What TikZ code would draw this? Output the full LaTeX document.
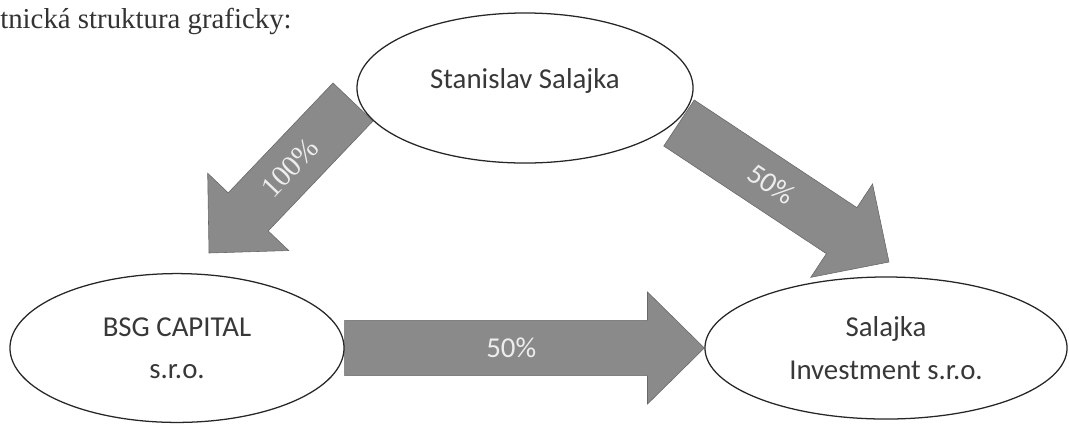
\documentclass[tikz,border=0pt]{standalone}
\usepackage{fontspec}
\setmainfont{Liberation Serif}
\newfontfamily\calibri{Carlito}
\usepackage{xcolor}
\usepackage{tikz}
\usetikzlibrary{shapes.geometric,calc,backgrounds}

\definecolor{arrowgray}{RGB}{138,138,138}
\def\shafthw{0.69cm}
\def\headhw{1.4cm}
\def\headlen{1.42cm}

% fat block arrow: tail, tip, name of the point where the head starts
\newcommand{\fatarrow}[3]{%
  \coordinate (#3) at ($(#2)!\headlen!(#1)$);
  \filldraw[fatarrow] ($(#1)!\shafthw!90:(#2)$) -- ($(#3)!\shafthw!90:(#2)$)
    -- ($(#3)!\headhw!90:(#2)$) -- (#2) -- ($(#3)!\headhw!-90:(#2)$)
    -- ($(#3)!\shafthw!-90:(#2)$) -- ($(#1)!\shafthw!-90:(#2)$) -- cycle;
}

\begin{document}
\begin{tikzpicture}[x=0.025cm, y=-0.025cm,
  owner/.style={ellipse, draw=black!85, line width=0.9pt, fill=white, text=black!78,
    font=\calibri\fontsize{20.5}{30}\selectfont, align=center, inner sep=0pt},
  fatarrow/.style={fill=arrowgray, draw=arrowgray!75!black, line width=0.4pt},
  pct/.style={text=white!93!black, font=\calibri\fontsize{20.5}{24}\selectfont, inner sep=0pt}]
\useasboundingbox (0,0) rectangle (1069,424);

% heading
\node[anchor=base west, inner sep=0pt, text=black!80, font=\fontsize{20.5}{24}\selectfont] (title) at (0,28) {tnická struktura graficky:};

% owners
\node[owner, minimum width=8.4cm, minimum height=3.75cm] (stan) at (525,88) {\smash{Stanislav Salajka}};
\node[owner, minimum width=8.35cm, minimum height=3.72cm] (bsg) at (177,348) {BSG CAPITAL\\s.r.o.};
\node[owner, minimum width=9.05cm, minimum height=3.55cm] (inv) at (886,348) {Salajka\\Investment s.r.o.};

\coordinate (t100) at (353,102);
\coordinate (h100) at (209,253);
\coordinate (t50) at (679,123);
\coordinate (h50) at (889,262);

% shares
\begin{scope}[on background layer]
\fatarrow{t100}{h100}{b100}
\fatarrow{t50}{h50}{b50}
\fatarrow{bsg.east}{inv.west}{bh}
\end{scope}
\path (t100) -- (b100) node[pct, pos=0.6, sloped, font=\fontsize{21}{24}\selectfont] {100\%};
\path (t50) -- (b50) node[pct, pos=0.57, sloped] {50\%};
\path (bsg.east) -- (bh) node[pct, pos=0.55] {50\%};

\end{tikzpicture}
\end{document}
